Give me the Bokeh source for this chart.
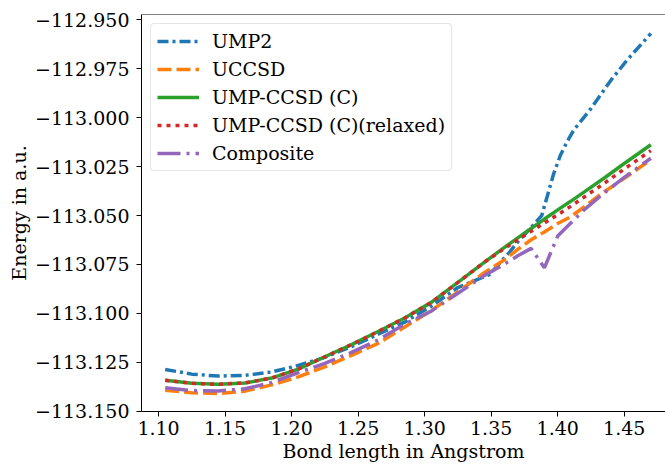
from bokeh.plotting import figure
from bokeh.models import Range1d, FixedTicker, Span
from bokeh.embed import file_html
from bokeh.resources import INLINE

# ---- data ----
x_common = [1.105, 1.125, 1.145, 1.165, 1.185, 1.205, 1.225, 1.245, 1.265, 1.285,
            1.305, 1.325, 1.345, 1.36, 1.37, 1.38, 1.39, 1.40, 1.41, 1.42,
            1.435, 1.45, 1.47]

x_ump2 = [1.105, 1.125, 1.145, 1.165, 1.185, 1.205, 1.225, 1.245, 1.265, 1.285,
          1.305, 1.325, 1.3487, 1.3637, 1.371, 1.377, 1.388, 1.397, 1.402, 1.407,
          1.412, 1.425, 1.44, 1.452, 1.47]
e_ump2 = [-113.1287, -113.1311, -113.1321, -113.1317, -113.1300, -113.1267, -113.1225,
          -113.1170, -113.1107, -113.1045, -113.0963, -113.0868, -113.0802, -113.0688,
          -113.0626, -113.0583, -113.0500, -113.0285, -113.0192, -113.0123, -113.0063,
          -112.9953, -112.9808, -112.9706, -112.9569]

e_uccsd = [-113.1394, -113.1406, -113.1410, -113.1398, -113.1366, -113.1325, -113.1274,
           -113.1215, -113.1154, -113.1070, -113.0986, -113.0890, -113.0791, -113.0726,
           -113.0673, -113.0624, -113.0584, -113.0541, -113.0505, -113.0455, -113.0378,
           -113.0310, -113.0214]

e_ump_ccsd_c = [-113.1342, -113.1358, -113.1363, -113.1356, -113.1331, -113.1285, -113.1222,
                -113.1160, -113.1093, -113.1024, -113.0944, -113.0842, -113.0738, -113.0663,
                -113.0614, -113.0566, -113.0518, -113.0471, -113.0426, -113.0379, -113.0308,
                -113.0234, -113.0138]

e_ump_ccsd_c_relaxed = [-113.1342, -113.1358, -113.1363, -113.1356, -113.1331, -113.1285,
                        -113.1222, -113.1160, -113.1093, -113.1024, -113.0944, -113.0842,
                        -113.0738, -113.0668, -113.0624, -113.0581, -113.0538, -113.0496,
                        -113.0452, -113.0405, -113.0335, -113.0262, -113.0168]

e_composite = [-113.1380, -113.1395, -113.1397, -113.1386, -113.1354, -113.1303, -113.1256,
               -113.1200, -113.1136, -113.1055, -113.0989, -113.0897, -113.0806, -113.0748,
               -113.0706, -113.0668, -113.0767, -113.0605, -113.0537, -113.0470, -113.0384,
               -113.0305, -113.0207]

x_ticks = [1.10, 1.15, 1.20, 1.25, 1.30, 1.35, 1.40, 1.45]
x_tick_labels = ["1.10", "1.15", "1.20", "1.25", "1.30", "1.35", "1.40", "1.45"]
y_ticks = [-112.950, -112.975, -113.000, -113.025, -113.050, -113.075, -113.100, -113.125, -113.150]
y_tick_labels = ["\u2212112.950", "\u2212112.975", "\u2212113.000", "\u2212113.025", "\u2212113.050",
                 "\u2212113.075", "\u2212113.100", "\u2212113.125", "\u2212113.150"]

FONT = "DejaVu Serif"
FS = "19px"

p = figure(width=665, height=464, output_backend="svg", toolbar_location=None,
           x_range=Range1d(1.0872, 1.481), y_range=Range1d(-113.1502, -112.9472),
           min_border_left=141, min_border_right=0, min_border_top=14, min_border_bottom=53,
           background_fill_color="white", border_fill_color="white")
p.outline_line_color = None
p.grid.visible = False

LW = 3.5
p.line(x_ump2, e_ump2, line_color="#1f77b4", line_width=LW, line_dash="11 4 3 4", legend_label="UMP2")
p.line(x_common, e_uccsd, line_color="#ff7f0e", line_width=LW, line_dash="14 5", legend_label="UCCSD")
p.line(x_common, e_ump_ccsd_c, line_color="#2ca02c", line_width=LW, legend_label="UMP-CCSD (C)")
p.line(x_common, e_ump_ccsd_c_relaxed, line_color="#d62728", line_width=LW, line_dash="4 5",
       legend_label="UMP-CCSD (C)(relaxed)")
p.line(x_common, e_composite, line_color="#9467bd", line_width=LW, line_dash="23 6 3 6",
       legend_label="Composite")

p.add_layout(Span(location=-112.9472, dimension="width", line_color="black", line_width=1))

for ax in (p.xaxis[0], p.yaxis[0]):
    ax.axis_line_color = "black"
    ax.axis_line_width = 1
    ax.major_tick_line_color = "black"
    ax.major_tick_out = 5
    ax.major_tick_in = 0
    ax.minor_tick_line_color = None
    ax.major_label_text_font = FONT
    ax.major_label_text_font_size = FS
    ax.major_label_text_color = "black"
    ax.axis_label_text_font = FONT
    ax.axis_label_text_font_size = FS
    ax.axis_label_text_font_style = "normal"
    ax.axis_label_text_color = "black"

p.xaxis[0].ticker = FixedTicker(ticks=x_ticks)
p.xaxis[0].major_label_overrides = dict(zip(x_ticks, x_tick_labels))
p.xaxis[0].axis_label = "Bond length in Angstrom"
p.xaxis[0].major_label_standoff = 4
p.xaxis[0].axis_label_standoff = 2

p.yaxis[0].ticker = FixedTicker(ticks=y_ticks)
p.yaxis[0].major_label_overrides = dict(zip(y_ticks, y_tick_labels))
p.yaxis[0].axis_label = "Energy in a.u."
p.yaxis[0].major_label_standoff = 7
p.yaxis[0].axis_label_standoff = 2

lg = p.legend[0]
lg.location = "top_left"
lg.margin = 9
lg.padding = 6
lg.spacing = 6
lg.glyph_width = 42
lg.glyph_height = 20
lg.label_standoff = 13
lg.label_text_font = FONT
lg.label_text_font_size = FS
lg.label_text_color = "black"
lg.border_line_color = "#cccccc"
lg.border_line_width = 1
lg.background_fill_color = "white"
lg.background_fill_alpha = 0.8
if "border_radius" in lg.properties():
    lg.border_radius = 4

open("out.html", "w").write(file_html(p, INLINE))
